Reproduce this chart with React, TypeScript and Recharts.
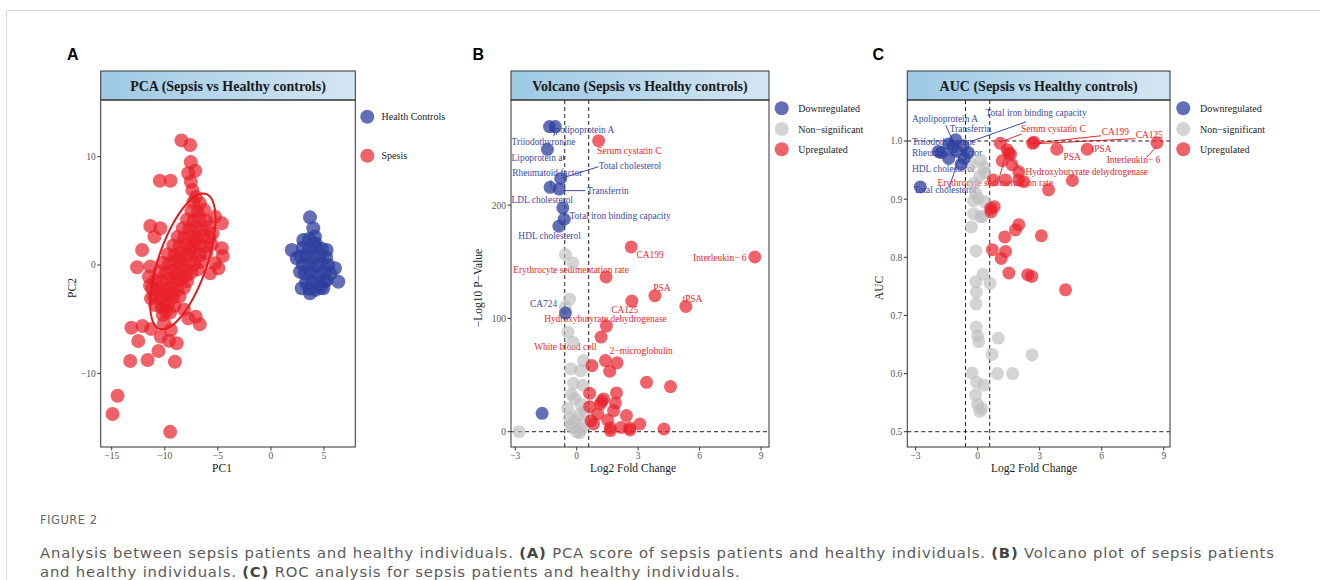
import React from 'react';
import { ScatterChart, Scatter, XAxis, YAxis, ReferenceLine } from 'recharts';

const SERIF = '"Liberation Serif", "Times New Roman", Times, serif';
const RED = '#E8202A';
const BLUE = '#2E3F9E';
const GRAY = '#BDBDBD';
const RED_TXT = '#E8262C';
const BLUE_TXT = '#3B4BA6';

type P = [number, number];
type L = [string, number, number];

// ---------------- Panel A : PCA ----------------
const pcaXTicks = [-15, -10, -5, 0, 5];
const pcaYTicks = [-10, 0, 10];
const pcaSepsis: P[] = [
  [-8.43, 11.5], [-7.61, 11.08], [-7.55, 9.5], [-7.79, 8.47], [-7.13, 8.7], [-7.55, 7.69], [-7.4, 6.93], [-7.08, 6.28],
  [-10.47, 7.78], [-9.46, 7.78],
  [-5.26, 4.46], [-4.63, 3.85], [-5.5, 2.93], [-4.63, 1.54], [-4.54, 0.83], [-5.26, 0.15], [-5.73, -0.77], [-4.95, -0.3],
  [-11.37, 3.6], [-10.42, 3.39], [-10.98, 2.61], [-12.14, 1.39], [-12.61, -0.21], [-11.37, -0.15], [-11.5, -1.08], [-11.4, -1.9],
  [-11.3, -3.08], [-10.5, -2.62], [-9.9, -4.3], [-10.07, -3.85], [-8.2, -4.1], [-7.08, -4.77], [-6.7, -5.48], [-7.79, -4.93],
  [-13.15, -5.79], [-12.1, -5.63], [-11.3, -5.9], [-10.07, -5.38], [-9.44, -6.0], [-10.38, -6.62], [-9.6, -6.99], [-8.88, -7.23],
  [-12.5, -7.02], [-10.6, -7.94], [-13.26, -8.86], [-11.62, -8.77], [-9.05, -8.93], [-14.45, -12.07], [-14.92, -13.76], [-9.5, -15.4],
  [-10.2, -4.6], [-9.5, -4.4],
  [-10.9, -3.7], [-10.3, -3.9], [-9.7, -3.6], [-9.1, -3.8],
  [-11.0, -2.9], [-10.4, -3.1], [-9.8, -2.8], [-9.2, -3.0], [-8.6, -2.9],
  [-11.2, -2.2], [-10.6, -2.1], [-10.0, -2.3], [-9.4, -2.1], [-8.8, -2.3], [-8.2, -2.1],
  [-10.9, -1.4], [-10.3, -1.5], [-9.7, -1.3], [-9.1, -1.5], [-8.5, -1.3], [-7.9, -1.5],
  [-10.5, -0.6], [-9.9, -0.7], [-9.3, -0.5], [-8.7, -0.7], [-8.1, -0.5], [-7.5, -0.7], [-6.9, -0.4],
  [-10.2, 0.2], [-9.6, 0.1], [-9.0, 0.3], [-8.4, 0.1], [-7.8, 0.3], [-7.2, 0.1], [-6.6, 0.3],
  [-9.7, 1.0], [-9.1, 0.9], [-8.5, 1.1], [-7.9, 0.9], [-7.3, 1.1], [-6.7, 0.9], [-6.1, 1.1],
  [-9.2, 1.8], [-8.6, 1.7], [-8.0, 1.9], [-7.4, 1.7], [-6.8, 1.9], [-6.2, 1.7], [-5.6, 1.9],
  [-8.8, 2.6], [-8.2, 2.5], [-7.6, 2.7], [-7.0, 2.5], [-6.4, 2.7], [-5.8, 2.5],
  [-8.3, 3.4], [-7.7, 3.3], [-7.1, 3.5], [-6.5, 3.3], [-5.9, 3.5],
  [-7.9, 4.2], [-7.3, 4.1], [-6.7, 4.3], [-6.1, 4.1],
  [-7.5, 5.0], [-6.9, 4.9], [-6.3, 5.1],
  [-7.3, 5.8], [-6.7, 5.7],
  [-9.4, -2.6], [-8.9, -1.0], [-8.0, -1.0], [-7.2, 2.2], [-8.6, 0.6], [-7.6, 1.4],
];
const pcaHealthy: P[] = [
  [3.68, 4.4], [3.99, 3.39], [4.15, 2.61], [3.05, 2.31], [1.96, 1.39], [2.43, 0.62], [5.25, 1.39], [6.03, -0.3],
  [6.35, -1.54], [5.25, -1.39], [2.9, -2.15], [3.68, -2.61], [4.93, -2.15], [2.74, -0.62],
  [3.6, 2.4], [4.2, 2.0],
  [3.0, 1.6], [3.6, 1.5], [4.2, 1.7], [4.8, 1.5],
  [2.8, 0.8], [3.4, 0.9], [4.0, 0.7], [4.6, 0.9], [5.2, 0.7],
  [3.0, 0.0], [3.6, 0.1], [4.2, -0.1], [4.8, 0.1], [5.4, 0.0],
  [3.2, -0.8], [3.8, -0.7], [4.4, -0.9], [5.0, -0.7], [5.6, -0.8],
  [3.3, -1.6], [3.9, -1.5], [4.5, -1.7], [5.1, -1.5],
  [3.6, -2.2], [4.2, -2.3], [4.7, -2.1],
];
const ellipseCenter: P = [-8.3, 0.33];
const ellipseSemiAxes: P = [6.6, 2.28];
const ellipseAngleDeg = 70.5;

// ---------------- Panel B : Volcano ----------------
const volXTicks = [-3, 0, 3, 6, 9];
const volYTicks = [0, 100, 200];
const fcCut = 0.585;
const volDown: P[] = [
  [-1.33, 269.3], [-1.05, 269.3], [-1.43, 249.3], [-0.78, 223.6], [-1.3, 215.7], [-0.86, 214.2],
  [-0.68, 197.6], [-0.61, 187.6], [-0.87, 181.4], [-0.55, 104.7], [-1.69, 16.2],
];
const volNs: P[] = [
  [-2.82, 0], [-0.55, 156.4], [-0.19, 149], [-0.35, 117.1], [-0.55, 110], [-0.43, 87.9], [-0.19, 79],
  [0.33, 62.8], [-0.28, 55.5], [0.2, 54], [-0.16, 42.7], [0.3, 41], [-0.25, 33], [-0.1, 29.2],
  [-0.45, 20.6], [0.2, 24.5], [-0.1, 9.7], [0.3, 6.8], [-0.2, 3.8], [0, 0], [0.25, 2.4], [-0.35, 12],
  [0.1, 15], [0.4, 18], [-0.3, 6], [0.15, -1],
];
const volUp: P[] = [
  [1.07, 256.9], [2.66, 163.1], [8.7, 154.2], [1.43, 136.6], [3.82, 120.1], [2.69, 115.3], [5.33, 110.6],
  [1.45, 93.2], [1.19, 83.5], [0.74, 58.4], [1.4, 62.8], [1.97, 60.8], [1.61, 53.4], [3.41, 43.6],
  [4.58, 39.8], [0.63, 33.9], [1.31, 28.9], [1.94, 34.2], [1.89, 25.4], [1.23, 26.8], [0.63, 22.1],
  [1.02, 15.6], [1.51, 10.4], [2.43, 14.2], [3.08, 6.8], [0.82, 6.8], [1.64, 3.3], [2.17, 3.8],
  [2.59, 3.3], [4.26, 2.4], [1.8, 18.6], [1.15, 24.5], [0.7, 9.7], [2.6, 1.5], [1.64, 1.0],
];
const volLabelsDown: L[] = [
  ['Apolipoprotein A', -1.38, 266.0], ['Triiodothyronine', -3.18, 256.0], ['Lipoprotein a', -3.18, 241.3],
  ['Total cholesterol', 1.07, 234.8], ['Rheumatoid factor', -3.15, 228], ['Transferrin', 0.5, 212.7],
  ['LDL cholesterol', -3.18, 204.4], ['Total iron binding capacity', -0.35, 190.3], ['HDL cholesterol', -2.85, 172.8],
  ['CA724', -2.28, 113],
];
const volLabelsUp: L[] = [
  ['Serum cystatin C', 0.99, 248], ['CA199', 2.92, 156.4], ['Interleukin\u2212 6', 5.68, 153.7],
  ['Erythrocyte sedimentation rate', -3.1, 143.1], ['PSA', 3.74, 127.2], ['tPSA', 5.16, 117.4],
  ['CA125', 1.68, 107.7], ['Hydroxybutyrate dehydrogenase', -1.59, 99.7], ['White blood cell', -2.08, 75.2],
  ['2\u2212microglobulin', 1.61, 70.8],
];
const volSegDown: [P, P][] = [
  [[1.06, 233.9], [-0.71, 223.9]], [[0.42, 212.8], [-0.66, 212.8]], [[-1.26, 222], [-1.26, 215]],
  [[-0.65, 244], [-0.65, 240]], [[-1.05, 265], [-1.12, 261]],
];

// ---------------- Panel C : AUC ----------------
const aucXTicks = [-3, 0, 3, 6, 9];
const aucYTicks = [0.5, 0.6, 0.7, 0.8, 0.9, 1.0];
const aucDown: P[] = [
  [-2.77, 0.921], [-1.06, 1.002], [-1.4, 0.995], [-0.7, 0.992], [-1.75, 0.98], [-1.4, 0.97], [-0.65, 0.97],
  [-1.0, 0.982], [-1.2, 0.99], [-0.45, 0.98], [-1.9, 0.982], [-0.8, 0.96],
];
const aucNs: P[] = [
  [0.14, 0.967], [0.3, 0.955], [0.35, 0.945], [-0.18, 0.927], [-0.1, 0.91], [-0.2, 0.897], [0.35, 0.895],
  [-0.2, 0.875], [0.14, 0.87], [-0.3, 0.852], [-0.08, 0.811], [0.26, 0.771], [-0.08, 0.758], [0.6, 0.755],
  [-0.06, 0.74], [-0.07, 0.72], [-0.06, 0.68], [0.0, 0.665], [0.05, 0.655], [1.0, 0.661], [0.7, 0.633],
  [2.63, 0.632], [-0.27, 0.601], [0.96, 0.6], [1.69, 0.6], [-0.05, 0.585], [0.3, 0.58], [-0.1, 0.563],
  [0.0, 0.547], [0.1, 0.535], [0.2, 0.54], [0.1, 0.94], [-0.3, 0.96], [0.03, 0.902], [0.23, 0.87],
];
const aucUp: P[] = [
  [1.1, 0.996], [2.66, 0.996], [2.72, 0.998], [8.67, 0.997], [3.83, 0.986], [5.3, 0.986], [1.43, 0.985],
  [1.59, 0.977], [1.19, 0.966], [1.67, 0.959], [1.99, 0.947], [0.75, 0.933], [1.35, 0.933], [1.99, 0.933],
  [2.23, 0.93], [3.43, 0.916], [4.58, 0.932], [0.63, 0.884], [0.8, 0.887], [1.99, 0.856], [1.83, 0.847],
  [3.08, 0.837], [1.31, 0.835], [0.71, 0.813], [1.35, 0.81], [1.14, 0.798], [1.51, 0.773], [2.42, 0.77],
  [2.62, 0.767], [4.25, 0.744], [0.65, 0.878], [1.51, 0.979],
];
const aucLabelsDown: L[] = [
  ['Total iron binding capacity', 0.38, 1.049], ['Apolipoprotein A', -3.17, 1.037], ['Transferrin', -1.35, 1.02],
  ['Triiodothyronine', -3.17, 0.999], ['Rheumatoid factor', -3.17, 0.98], ['HDL cholesterol', -3.17, 0.952],
  ['Total cholesterol', -3.09, 0.915],
];
const aucLabelsUp: L[] = [
  ['Serum cystatin C', 2.1, 1.02], ['CA199', 6.0, 1.016], ['CA125', 7.64, 1.01], ['tPSA', 5.51, 0.986],
  ['PSA', 4.15, 0.972], ['Interleukin\u2212 6', 6.24, 0.9665], ['Hydroxybutyrate dehydrogenase', 2.31, 0.9467],
  ['Erythrocyte sedimentation rate', -1.94, 0.9277],
];
const aucSegDown: [P, P][] = [
  [[2.34, 1.033], [-0.34, 0.999]], [[-1.54, 1.027], [-1.22, 1.002]], [[-1.38, 0.92], [-0.9, 0.97]],
];
const aucSegUp: [P, P][] = [
  [[1.11, 0.998], [2.12, 1.012]], [[2.64, 0.996], [5.97, 1.009]], [[2.64, 0.995], [7.62, 1.004]],
  [[8.17, 0.972], [8.66, 0.991]], [[2.2, 0.947], [1.42, 0.976]], [[1.02, 0.934], [1.39, 0.979]],
];

// ---------------- helpers ----------------
const pts = (a: P[]) => a.map(([x, y]) => ({ x, y }));
const lbls = (a: L[]) => a.map(([label, x, y]) => ({ label, x, y }));
const minus = (v: number) => (v < 0 ? '\u2212' + Math.abs(v) : String(v));
const oneDec = (v: number) => v.toFixed(1);

const ellipsePts = (() => {
  const th = (ellipseAngleDeg * Math.PI) / 180;
  const [cx, cy] = ellipseCenter;
  const [a, b] = ellipseSemiAxes;
  const out: { x: number; y: number }[] = [];
  for (let i = 0; i <= 120; i++) {
    const t = (i / 120) * Math.PI * 2;
    out.push({
      x: cx + a * Math.cos(t) * Math.cos(th) - b * Math.sin(t) * Math.sin(th),
      y: cy + a * Math.cos(t) * Math.sin(th) + b * Math.sin(t) * Math.cos(th),
    });
  }
  return out;
})();

const dot = (r: number, fill: string, op: number) => (p: any) =>
  p.cx == null ? <g /> : <circle cx={p.cx} cy={p.cy} r={r} fill={fill} fillOpacity={op} />;
const txt = (fill: string) => (p: any) =>
  p.cx == null ? <g /> : (
    <text x={p.cx} y={p.cy} fill={fill} fontSize={9.4} fontFamily={SERIF} dominantBaseline="central">
      {p.payload?.label}
    </text>
  );
const noShape = () => <g />;

const tickStyle = { fontSize: 9.5, fill: '#555', fontFamily: SERIF };
const H = 480;
const PT = 100;
const PB = 447;

function axes(xDomain: P, xTicks: number[], yDomain: P, yTicks: number[], yFmt: (v: number) => string) {
  return [
    <XAxis key="x" type="number" dataKey="x" domain={xDomain} ticks={xTicks} allowDataOverflow interval={0}
      axisLine={false} tickLine={{ stroke: '#333' }} tickSize={3.5} tickMargin={1.5} height={25}
      tick={tickStyle} tickFormatter={minus} />,
    <YAxis key="y" type="number" dataKey="y" domain={yDomain} ticks={yTicks} allowDataOverflow interval={0}
      axisLine={false} tickLine={{ stroke: '#333' }} tickSize={3.5} tickMargin={1.5} width={40}
      tick={tickStyle} tickFormatter={yFmt} />,
  ];
}

const dash = { stroke: '#222', strokeWidth: 1, strokeDasharray: '4 3' };

const panels = [
  { L: 100.7, R: 355.3, title: 'PCA (Sepsis vs Healthy controls)', letter: 'A', lx: 67, xt: 'PC1', xtx: 222, yt: 'PC2', ytx: 72 },
  { L: 511, R: 769, title: 'Volcano (Sepsis vs Healthy controls)', letter: 'B', lx: 472.5, xt: 'Log2 Fold Change', xtx: 633, yt: '\u2212Log10 P\u2212Value', ytx: 478 },
  { L: 907.3, R: 1170, title: 'AUC (Sepsis vs Healthy controls)', letter: 'C', lx: 872.5, xt: 'Log2 Fold Change', xtx: 1034, yt: 'AUC', ytx: 879 },
];

const legends = [
  { cx: 367.3, tx: 381.5, items: [['Health Controls', BLUE, 0.75, 116.7], ['Spesis', RED, 0.7, 155.7]] },
  { cx: 781.7, tx: 798.3, items: [['Downregulated', BLUE, 0.75, 108.3], ['Non\u2212significant', GRAY, 0.65, 129], ['Upregulated', RED, 0.7, 149.3]] },
  { cx: 1183.3, tx: 1200, items: [['Downregulated', BLUE, 0.75, 108.3], ['Non\u2212significant', GRAY, 0.65, 129], ['Upregulated', RED, 0.7, 149.3]] },
];

const CAP_FONT = '"DejaVu Sans", "Open Sans", sans-serif';
const capStyle: React.CSSProperties = {
  position: 'absolute', left: 40, fontFamily: CAP_FONT, fontSize: 14.8, lineHeight: '17px',
  letterSpacing: 0.82, color: '#5a5a5a', whiteSpace: 'nowrap',
};
const boldStyle: React.CSSProperties = { color: '#444', fontWeight: 700 };

export default function App() {
  return (
    <div style={{ position: 'absolute', left: 0, top: 0, width: 1320, height: 580, background: '#fff', overflow: 'hidden' }}>
      <div style={{ position: 'absolute', left: 6, top: 10, width: 1320, height: 580, borderTop: '1px solid #dcdcdc', borderLeft: '1px solid #dcdcdc' }} />

      {/* Panel A */}
      <div style={{ position: 'absolute', left: 0, top: 0 }}>
        <ScatterChart width={470} height={H} margin={{ top: PT, right: 470 - 355.3, bottom: H - PB - 25, left: 100.7 - 40 }}>
          {axes([-16.04, 7.95], pcaXTicks, [-16.8, 15.23], pcaYTicks, minus)}
          <Scatter data={pts(pcaHealthy)} shape={dot(7, BLUE, 0.75)} isAnimationActive={false} />
          <Scatter data={pts(pcaSepsis)} shape={dot(7, RED, 0.7)} isAnimationActive={false} />
          <Scatter data={ellipsePts} shape={noShape} line={{ stroke: '#E41A1C', strokeWidth: 2 }} isAnimationActive={false} />
        </ScatterChart>
      </div>

      {/* Panel B */}
      <div style={{ position: 'absolute', left: 420, top: 0 }}>
        <ScatterChart width={420} height={H} margin={{ top: PT, right: 840 - 769, bottom: H - PB - 25, left: 511 - 420 - 40 }}>
          {axes([-3.21, 9.39], volXTicks, [-13.5, 292.8], volYTicks, minus)}
          {volSegDown.map((s, i) => (
            <ReferenceLine key={'bs' + i} segment={[{ x: s[0][0], y: s[0][1] }, { x: s[1][0], y: s[1][1] }]} stroke={BLUE_TXT} strokeWidth={1} />
          ))}
          <Scatter data={lbls(volLabelsDown)} shape={txt(BLUE_TXT)} isAnimationActive={false} />
          <Scatter data={lbls(volLabelsUp)} shape={txt(RED_TXT)} isAnimationActive={false} />
          <Scatter data={pts(volNs)} shape={dot(6.5, GRAY, 0.65)} isAnimationActive={false} />
          <Scatter data={pts(volDown)} shape={dot(6.5, BLUE, 0.75)} isAnimationActive={false} />
          <Scatter data={pts(volUp)} shape={dot(6.5, RED, 0.7)} isAnimationActive={false} />
          <ReferenceLine x={-fcCut} {...dash} />
          <ReferenceLine x={fcCut} {...dash} />
          <ReferenceLine y={0} {...dash} />
        </ScatterChart>
      </div>

      {/* Panel C */}
      <div style={{ position: 'absolute', left: 820, top: 0 }}>
        <ScatterChart width={420} height={H} margin={{ top: PT, right: 1240 - 1170, bottom: H - PB - 25, left: 907.3 - 820 - 40 }}>
          {axes([-3.4, 9.3], aucXTicks, [0.4737, 1.0705], aucYTicks, oneDec)}
          {aucSegDown.map((s, i) => (
            <ReferenceLine key={'cs' + i} segment={[{ x: s[0][0], y: s[0][1] }, { x: s[1][0], y: s[1][1] }]} stroke={BLUE_TXT} strokeWidth={1} />
          ))}
          {aucSegUp.map((s, i) => (
            <ReferenceLine key={'cu' + i} segment={[{ x: s[0][0], y: s[0][1] }, { x: s[1][0], y: s[1][1] }]} stroke={RED_TXT} strokeWidth={1} />
          ))}
          <Scatter data={lbls(aucLabelsDown)} shape={txt(BLUE_TXT)} isAnimationActive={false} />
          <Scatter data={lbls(aucLabelsUp)} shape={txt(RED_TXT)} isAnimationActive={false} />
          <Scatter data={pts(aucNs)} shape={dot(6.5, GRAY, 0.65)} isAnimationActive={false} />
          <Scatter data={pts(aucDown)} shape={dot(6.5, BLUE, 0.75)} isAnimationActive={false} />
          <Scatter data={pts(aucUp)} shape={dot(6.5, RED, 0.7)} isAnimationActive={false} />
          <ReferenceLine x={-fcCut} {...dash} />
          <ReferenceLine x={fcCut} {...dash} />
          <ReferenceLine y={0.5} {...dash} />
          <ReferenceLine y={1.0} {...dash} />
        </ScatterChart>
      </div>

      {/* Frames, titles, legends */}
      <svg width={1320} height={580} style={{ position: 'absolute', left: 0, top: 0, pointerEvents: 'none' }}>
        <defs>
          <linearGradient id="strip" x1="0" x2="1" y1="0" y2="0">
            <stop offset="0" stopColor="#9DC9E4" />
            <stop offset="1" stopColor="#D5E6F3" />
          </linearGradient>
        </defs>
        {panels.map((p) => (
          <g key={p.letter}>
            <rect x={p.L} y={71} width={p.R - p.L} height={PT - 71} fill="url(#strip)" stroke="#333" strokeWidth={1} />
            <rect x={p.L} y={PT} width={p.R - p.L} height={PB - PT} fill="none" stroke="#333" strokeWidth={1} />
            <text x={(p.L + p.R) / 2} y={86} textAnchor="middle" dominantBaseline="central" fontFamily={SERIF} fontWeight="bold" fontSize={14} fill="#1a1a1a">{p.title}</text>
            <text x={p.lx} y={60} fontFamily='"Liberation Sans", Arial, sans-serif' fontWeight="bold" fontSize={16} fill="#000">{p.letter}</text>
            <text x={p.xtx} y={468} textAnchor="middle" dominantBaseline="central" fontFamily={SERIF} fontSize={11.5} fill="#222">{p.xt}</text>
            <text x={p.ytx} y={288} textAnchor="middle" dominantBaseline="central" fontFamily={SERIF} fontSize={11.5} fill="#222" transform={`rotate(-90 ${p.ytx} 288)`}>{p.yt}</text>
          </g>
        ))}
        {legends.map((lg, i) => (
          <g key={i}>
            {lg.items.map((it: any) => (
              <g key={it[0]}>
                <circle cx={lg.cx} cy={it[3]} r={7} fill={it[1]} fillOpacity={it[2]} />
                <text x={lg.tx} y={it[3]} dominantBaseline="central" fontFamily={SERIF} fontSize={10} fill="#222">{it[0]}</text>
              </g>
            ))}
          </g>
        ))}
      </svg>

      {/* Caption */}
      <div style={{ position: 'absolute', left: 40, top: 513, fontFamily: CAP_FONT, fontSize: 11.5, lineHeight: '14px', letterSpacing: 0.5, color: '#666', whiteSpace: 'nowrap' }}>FIGURE 2</div>
      <div style={{ ...capStyle, top: 544 }}>
        Analysis between sepsis patients and healthy individuals. <span style={boldStyle}>(A)</span> PCA score of sepsis patients and healthy individuals. <span style={boldStyle}>(B)</span> Volcano plot of sepsis patients
      </div>
      <div style={{ ...capStyle, top: 562.5 }}>
        and healthy individuals. <span style={boldStyle}>(C)</span> ROC analysis for sepsis patients and healthy individuals.
      </div>
    </div>
  );
}
